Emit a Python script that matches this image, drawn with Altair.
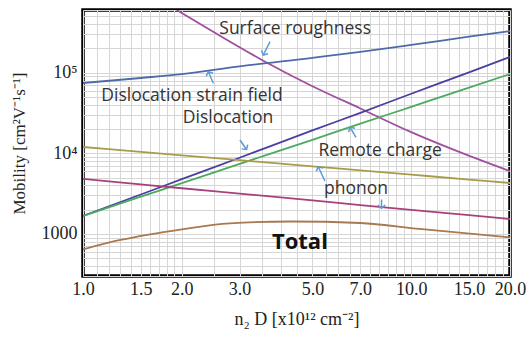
import math
import altair as alt
import pandas as pd

# ---------------- data ----------------
common_x = [1.0, 1.5, 2.0, 3.0, 5.0, 7.0, 10.0, 15.0, 20.0]

sr_x = [1.93, 2.5, 3.6, 5.0, 7.0, 10.0, 14.0, 20.0]          # Surface roughness
sr_y = [600000, 320000, 136000, 68000, 36000, 18300, 10400, 6000]

sf_y = [74500, 86000, 96000, 120000, 153000, 181000, 221000, 280000, 329000]  # Dislocation strain field
dl_y = [1670, 3080, 4770, 8810, 19200, 31800, 54800, 101000, 157000]          # Dislocation
rc_y = [1670, 2890, 4260, 7380, 14700, 23300, 37700, 65200, 96400]            # Remote charge
ol_y = [11970, 10410, 9430, 8210, 6890, 6140, 5430, 4725, 4280]               # phonon (olive)
ph_y = [4800, 4110, 3680, 3160, 2600, 2280, 1990, 1710, 1530]                 # phonon (magenta)

to_x = [1.0, 1.3, 2.0, 2.8, 4.3, 7.0, 10.6, 20.0]                            # Total
to_y = [643, 840, 1140, 1353, 1424, 1365, 1150, 907]

series_names = ["Surface roughness", "Dislocation strain field", "Dislocation",
                "Remote charge", "Phonon A", "Phonon B", "Total"]
series_colors = ["#9e4fa0", "#4f6aa8", "#4b3fa0", "#4caa5f", "#a99c48", "#a8407c", "#a87850"]

# annotation labels
label_text = ["Surface roughness", "Dislocation strain field", "Dislocation", "Remote charge", "phonon"]
label_x = [4.43, 2.148, 2.766, 8.04, 6.79]
label_y = [345000, 51400, 27400, 10680, 3605]
total_text = ["Total"]
total_x = [4.58]
total_y = [793]

# annotation arrows (tail -> head)
arrow_tail_x = [3.714, 2.495, 3.008, 6.79, 5.46, 8.12]
arrow_tail_y = [242500, 73900, 14620, 15790, 4530, 2670]
arrow_head_x = [3.542, 2.409, 3.15, 6.51, 5.21, 8.12]
arrow_head_y = [165800, 102900, 11140, 21000, 6815, 2077]

# axis tick labels / grid
x_labels = [1.0, 1.5, 2.0, 3.0, 5.0, 7.0, 10.0, 15.0, 20.0]
x_grid = ([round(1.0 + 0.1 * i, 2) for i in range(10)]
          + [round(2.0 + 0.5 * i, 2) for i in range(16)]
          + [float(v) for v in range(10, 21)])
y_grid = ([v * 100 for v in range(3, 10)] + [v * 1000 for v in range(1, 10)]
          + [v * 10000 for v in range(1, 10)] + [v * 100000 for v in range(1, 7)])

# ---------------- build tables ----------------
rows = []
def add(name, xs, ys):
    for a, b in zip(xs, ys):
        rows.append({"series": name, "n": a, "mu": b})
add(series_names[0], sr_x, sr_y)
add(series_names[1], common_x, sf_y)
add(series_names[2], common_x, dl_y)
add(series_names[3], common_x, rc_y)
add(series_names[4], common_x, ol_y)
add(series_names[5], common_x, ph_y)
add(series_names[6], to_x, to_y)
df_lines = pd.DataFrame(rows)

W, H = 427, 266
XD = [1.0, 20.0]
YD = [300, 600000]
px_dec_x = W / (math.log10(XD[1]) - math.log10(XD[0]))
px_dec_y = H / (math.log10(YD[1]) - math.log10(YD[0]))

arr = []
for tx, ty, hx, hy in zip(arrow_tail_x, arrow_tail_y, arrow_head_x, arrow_head_y):
    dx = px_dec_x * (math.log10(hx) - math.log10(tx))
    dy = -px_dec_y * (math.log10(hy) - math.log10(ty))
    ang = math.degrees(math.atan2(dx, -dy)) % 360
    arr.append({"tx": tx, "ty": ty, "hx": hx, "hy": hy, "ang": ang})
df_arr = pd.DataFrame(arr)

df_lab = pd.DataFrame({"t": label_text, "x": label_x, "y": label_y})
df_tot = pd.DataFrame({"t": total_text, "x": total_x, "y": total_y})

xscale = alt.Scale(type="log", domain=XD, nice=False)
yscale = alt.Scale(type="log", domain=YD, nice=False)

xlab_js = "[" + ",".join(str(v) for v in x_labels) + "]"
xaxis = alt.Axis(
    values=x_grid,
    labelExpr=f"indexof({xlab_js}, datum.value) >= 0 ? format(datum.value, '.1f') : ''",
    ticks=False, domain=False, grid=True, gridColor="#d6d6d6", gridWidth=1,
    labelFont="Liberation Serif", labelFontSize=18, labelColor="#222222",
    labelPadding=4, labelFlush=False, labelOverlap=False,
    title="n₂ D [x10¹² cm⁻²]", titleFont="Liberation Serif", titleFontSize=18,
    titleFontWeight="normal", titleColor="#222222", titlePadding=12,
)
yaxis = alt.Axis(
    values=y_grid,
    labelExpr="datum.value == 1000 ? '1000' : datum.value == 10000 ? '10⁴' : datum.value == 100000 ? '10⁵' : ''",
    ticks=False, domain=False, grid=True, gridColor="#d6d6d6", gridWidth=1,
    labelFont="Liberation Serif", labelFontSize=18, labelColor="#222222",
    labelPadding=6, labelOverlap=False,
    title="Mobility [cm²V⁻¹s⁻¹]", titleFont="Liberation Serif", titleFontSize=17,
    titleFontWeight="normal", titleColor="#222222", titlePadding=13,
)

def X(field):
    return alt.X(field, type="quantitative", scale=xscale, axis=xaxis)

def Y(field):
    return alt.Y(field, type="quantitative", scale=yscale, axis=yaxis)

lines = alt.Chart(df_lines).mark_line(clip=True, strokeWidth=1.8, interpolate="monotone").encode(
    x=X("n"),
    y=Y("mu"),
    color=alt.Color("series:N", scale=alt.Scale(domain=series_names, range=series_colors), legend=None),
    order=alt.Order("n:Q"),
)

acol = "#5b9bd5"
shafts = alt.Chart(df_arr).mark_rule(color=acol, strokeWidth=1.5).encode(
    x=X("tx"), y=Y("ty"), x2="hx:Q", y2="hy:Q",
)
heads = alt.Chart(df_arr).mark_point(
    shape="M-1,0.9L0,0L1,0.9", filled=False, color=acol, strokeWidth=1.5, size=55, opacity=1
).encode(
    x=X("hx"), y=Y("hy"),
    angle=alt.Angle("ang:Q", scale=None),
)

labels = alt.Chart(df_lab).mark_text(
    font="Open Sans", fontSize=17.5, color="#333333", align="center", baseline="middle"
).encode(x=X("x"), y=Y("y"), text="t:N")

total = alt.Chart(df_tot).mark_text(
    font="Open Sans", fontSize=22, fontWeight="bold", color="#111111", align="center", baseline="middle"
).encode(x=X("x"), y=Y("y"), text="t:N")

chart = alt.layer(lines, shafts, heads, labels, total).properties(
    width=W, height=H,
    autosize=alt.AutoSizeParams(type="none"),
    padding={"left": 83, "top": 10, "right": 19, "bottom": 61},
    background="white",
).configure_view(stroke="black", strokeWidth=3.5)

chart.save("out.html", embed_options={"renderer": "svg", "actions": False})
